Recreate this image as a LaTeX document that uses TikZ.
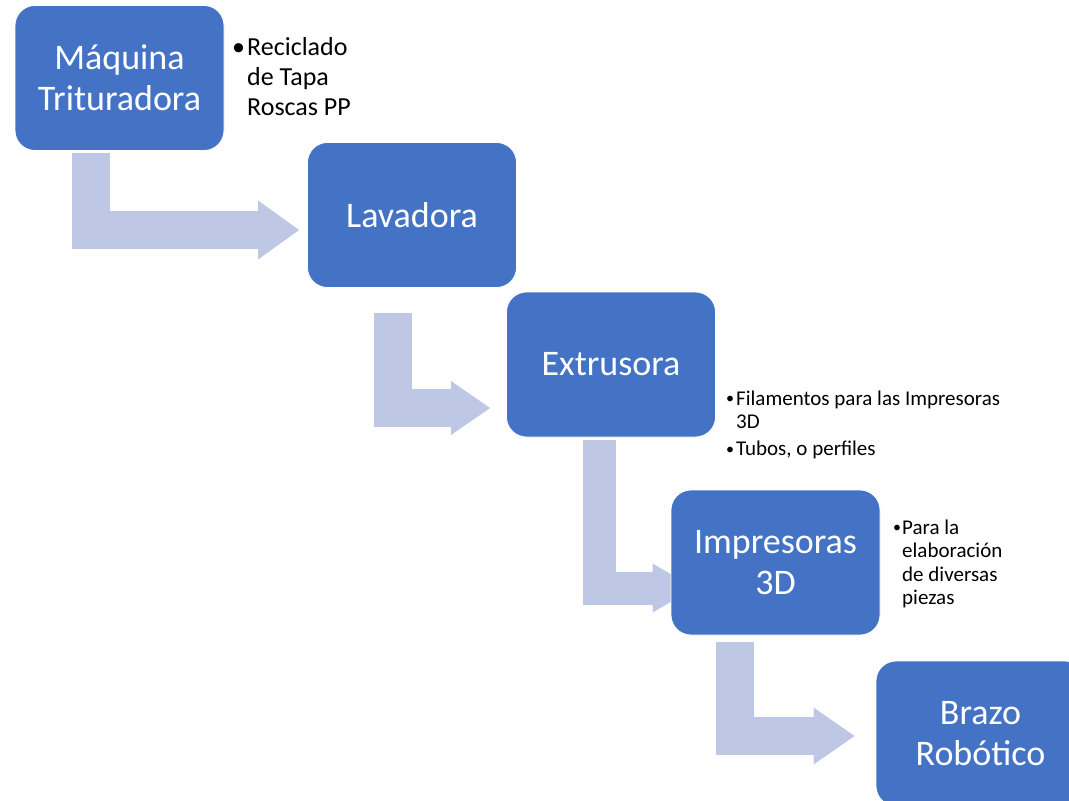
\documentclass[tikz,border=0pt]{standalone}
\usepackage{fontspec}
\setmainfont{Carlito}
\usepackage{tikz}
\usepackage{xcolor}
\definecolor{boxblue}{RGB}{68, 114, 196}
\definecolor{arrowblue}{RGB}{190, 200, 228}
\usetikzlibrary{arrows.meta, backgrounds}
\newcommand{\stagefont}{\fontsize{36}{41}\selectfont}
\newcommand{\bignotefont}{\fontsize{26}{30}\selectfont}
\newcommand{\notefont}{\fontsize{21}{23.5}\selectfont}
\newcommand{\bul}[1]{\makebox[#1][l]{\textbullet}}
\newcommand{\smallbul}[1]{\makebox[#1][l]{\raisebox{1.5pt}{\fontsize{16}{16}\selectfont\textbullet}}}
\tikzstyle{stage} = [draw=white, line width=0.8pt, fill=boxblue, rounded corners=20pt,
                     minimum width=209pt, minimum height=145pt, inner sep=0pt,
                     text=white, align=center, font=\stagefont]
\tikzstyle{note} = [inner sep=0pt, anchor=base west]
\tikzstyle{bent} = [draw=arrowblue, line join=miter]

\begin{document}
\begin{tikzpicture}[x=1pt, y=-1pt]
    \useasboundingbox (0,0) rectangle (1069,801);
    \clip (0,0) rectangle (1069,801);
    \node[stage] (maq) at (119.5, 78) {Máquina\\Trituradora};
    \node[stage] (lav) at (412, 215) {Lavadora};
    \node[stage] (ext) at (611, 364.5) {Extrusora};
    \node[stage] (imp) at (775.5, 562.5) {Impresoras\\3D};
    \node[stage] (bra) at (980.5, 733.5) {Brazo\\Robótico};
    \node[note, font=\bignotefont] (recnote) at (232, 55)
        {\begin{tabular}[t]{@{}l@{}l@{}}\bul{15pt} & Reciclado\\ & de Tapa\\ & Roscas PP\end{tabular}};
    \node[note, font=\notefont] (extnote) at (726, 405)
        {\begin{tabular}[t]{@{}l@{}l@{}}\smallbul{10pt} & Filamentos para las Impresoras\\ & 3D\\[3.5pt]
         \smallbul{10pt} & Tubos, o perfiles\end{tabular}};
    \node[note, font=\notefont] (impnote) at (893, 534)
        {\begin{tabular}[t]{@{}l@{}l@{}}\smallbul{9pt} & Para la\\ & elaboración\\ & de diversas\\ & piezas\end{tabular}};
    \begin{scope}[on background layer]
        \draw[bent, line width=38pt, -{Triangle[length=41pt, width=59pt, line width=0pt]}]
            ([xshift=-28.5pt, yshift=-2pt]maq.south) |- ([xshift=-8pt, yshift=-15pt]lav.west);
        \draw[bent, line width=38pt, -{Triangle[length=39pt, width=54pt, line width=0pt]}]
            ([xshift=-19.5pt, yshift=-25pt]lav.south) |- ([xshift=-16pt, yshift=-43.5pt]ext.west);
        \draw[bent, line width=33pt, -{Triangle[length=42pt, width=49pt, line width=0pt]}]
            ([xshift=-11.5pt, yshift=-3pt]ext.south) |- ([xshift=24pt, yshift=-25.5pt]imp.west);
        \draw[bent, line width=38pt, -{Triangle[length=41pt, width=57pt, line width=0pt]}]
            ([xshift=-40.5pt, yshift=-7pt]imp.south) |- ([xshift=-21pt, yshift=-2.5pt]bra.west);
    \end{scope}
\end{tikzpicture}
\end{document}
